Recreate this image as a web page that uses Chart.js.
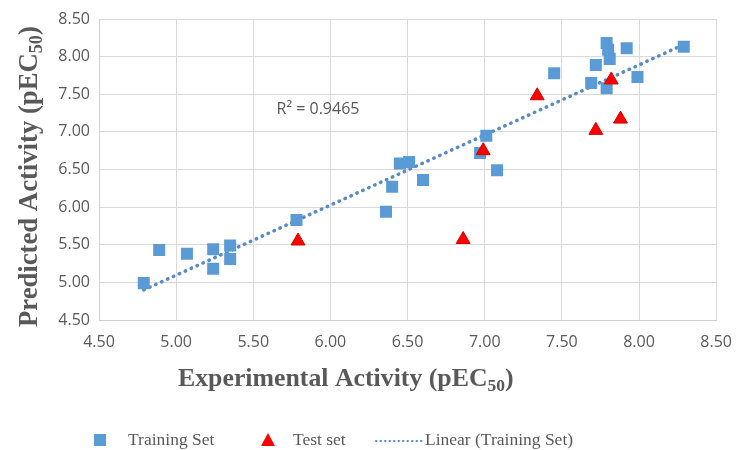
<!DOCTYPE html>
<html><head><meta charset="utf-8">
<style>html,body{margin:0;padding:0;background:#fff;} #wrap{width:745px;height:450px;position:relative;}</style>
<script src="https://cdn.jsdelivr.net/npm/chart.js@4.4.1/dist/chart.umd.min.js"></script>
</head><body><div id="wrap"><canvas id="c" width="745" height="450"></canvas></div>
<script>
// Training set (blue squares)
const trainX = [4.79, 4.89, 5.07, 5.24, 5.24, 5.35, 5.35, 5.78, 6.36, 6.40, 6.45, 6.51, 6.60, 6.97, 7.01, 7.08, 7.45, 7.69, 7.72, 7.79, 7.80, 7.81, 7.79, 7.92, 7.99, 8.29];
const trainY = [4.99, 5.43, 5.38, 5.44, 5.18, 5.49, 5.31, 5.83, 5.94, 6.27, 6.58, 6.60, 6.36, 6.72, 6.95, 6.49, 7.78, 7.65, 7.89, 8.18, 8.09, 7.97, 7.58, 8.11, 7.73, 8.13];
// Test set (red triangles)
const testX = [5.79, 6.86, 6.99, 7.34, 7.72, 7.82, 7.88];
const testY = [5.55, 5.57, 6.75, 7.48, 7.02, 7.69, 7.17];
// Linear trend line (Training Set), end points
const trendX = [4.79, 8.29];
const trendY = [4.90, 8.16];
// Axis ticks
const tickValues = [4.50, 5.00, 5.50, 6.00, 6.50, 7.00, 7.50, 8.00, 8.50];
// Texts
const seriesNames = ['Training Set', 'Test set', 'Linear (Training Set)'];
const xTitle = ['Experimental Activity (pEC', '50', ')'];
const yTitle = ['Predicted Activity (pEC', '50', ')'];
const r2Text = 'R² = 0.9465';

const GRAY = '#595959';
const BLUE = '#5B9BD5';
const RED = '#FF0000';
const TREND = '#5A8AC6';
const SERIF = "'Liberation Serif', 'Times New Roman', serif";
const SANS = "'Open Sans', 'Liberation Sans', sans-serif";

function pts(xs, ys) { return xs.map((x, i) => ({ x: x, y: ys[i] })); }

function drawSubText(ctx, parts, size, x, y) {
  let cx = x;
  parts.forEach((t, i) => {
    const sub = i === 1;
    const fs = sub ? size * 0.68 : size;
    ctx.font = 'bold ' + fs + 'px ' + SERIF;
    ctx.fillText(t, cx, y + (sub ? size * 0.2 : 0));
    cx += ctx.measureText(t).width;
  });
}

const textPlugin = {
  id: 'texts',
  afterDraw(chart) {
    const ctx = chart.ctx;
    ctx.save();
    ctx.fillStyle = GRAY;
    ctx.textBaseline = 'alphabetic';
    ctx.textAlign = 'left';
    drawSubText(ctx, xTitle, 25.8, 178, 386);
    ctx.save();
    ctx.translate(37, 327);
    ctx.rotate(-Math.PI / 2);
    drawSubText(ctx, yTitle, 26.7, 0, 0);
    ctx.restore();
    ctx.font = '16px ' + SANS;
    ctx.textAlign = 'center';
    ctx.textBaseline = 'middle';
    ctx.fillText(r2Text, 318, 109);
    const ly = 440;
    ctx.textAlign = 'left';
    ctx.textBaseline = 'alphabetic';
    ctx.font = '17.5px ' + SERIF;
    ctx.fillStyle = BLUE;
    ctx.fillRect(94, ly - 6, 12, 12);
    ctx.fillStyle = GRAY;
    ctx.fillText(seriesNames[0], 128, 445);
    ctx.fillStyle = RED;
    ctx.beginPath();
    ctx.moveTo(268, ly - 7);
    ctx.lineTo(275, ly + 6);
    ctx.lineTo(261, ly + 6);
    ctx.closePath();
    ctx.fill();
    ctx.fillStyle = GRAY;
    ctx.fillText(seriesNames[1], 293, 445);
    ctx.strokeStyle = TREND;
    ctx.lineWidth = 2;
    ctx.lineCap = 'round';
    ctx.setLineDash([0.5, 4]);
    ctx.beginPath();
    ctx.moveTo(376, ly + 1);
    ctx.lineTo(422, ly + 1);
    ctx.stroke();
    ctx.setLineDash([]);
    ctx.fillText(seriesNames[2], 425, 445);
    ctx.restore();
  }
};

function fmt(v) { return Number(v).toFixed(2); }

new Chart(document.getElementById('c'), {
  type: 'scatter',
  data: {
    datasets: [
      { label: seriesNames[0], data: pts(trainX, trainY), pointStyle: 'rect', pointRadius: 8.5,
        backgroundColor: BLUE, borderColor: BLUE, borderWidth: 0, order: 2 },
      { label: seriesNames[1], data: pts(testX, testY), pointStyle: 'triangle', pointRadius: 8,
        backgroundColor: RED, borderColor: '#D00000', borderWidth: 1, order: 1 },
      { label: seriesNames[2], type: 'line', data: pts(trendX, trendY), showLine: true, fill: false,
        borderColor: TREND, borderWidth: 3.5, borderDash: [0.5, 6], borderCapStyle: 'round',
        pointRadius: 0, order: 3 }
    ]
  },
  options: {
    responsive: false,
    animation: false,
    events: [],
    layout: { padding: { left: 0, right: 18, top: 19, bottom: 0 } },
    plugins: { legend: { display: false }, tooltip: { enabled: false } },
    scales: {
      x: {
        type: 'linear', min: 4.5, max: 8.5,
        afterBuildTicks: s => { s.ticks = tickValues.map(v => ({ value: v })); },
        afterFit: s => { s.height = 130; },
        grid: { color: '#D9D9D9', lineWidth: 1, drawTicks: false },
        border: { color: '#D0D0D0' },
        ticks: { padding: 13, color: GRAY, font: { family: SANS, size: 16 }, callback: fmt, maxRotation: 0 }
      },
      y: {
        type: 'linear', min: 4.5, max: 8.5,
        afterBuildTicks: s => { s.ticks = tickValues.map(v => ({ value: v })); },
        afterFit: s => { s.width = 99; },
        grid: { color: '#D9D9D9', lineWidth: 1, drawTicks: false },
        border: { color: '#D0D0D0' },
        ticks: { padding: 9, color: GRAY, font: { family: SANS, size: 16 }, callback: fmt }
      }
    }
  },
  plugins: [textPlugin]
});
</script></body></html>
